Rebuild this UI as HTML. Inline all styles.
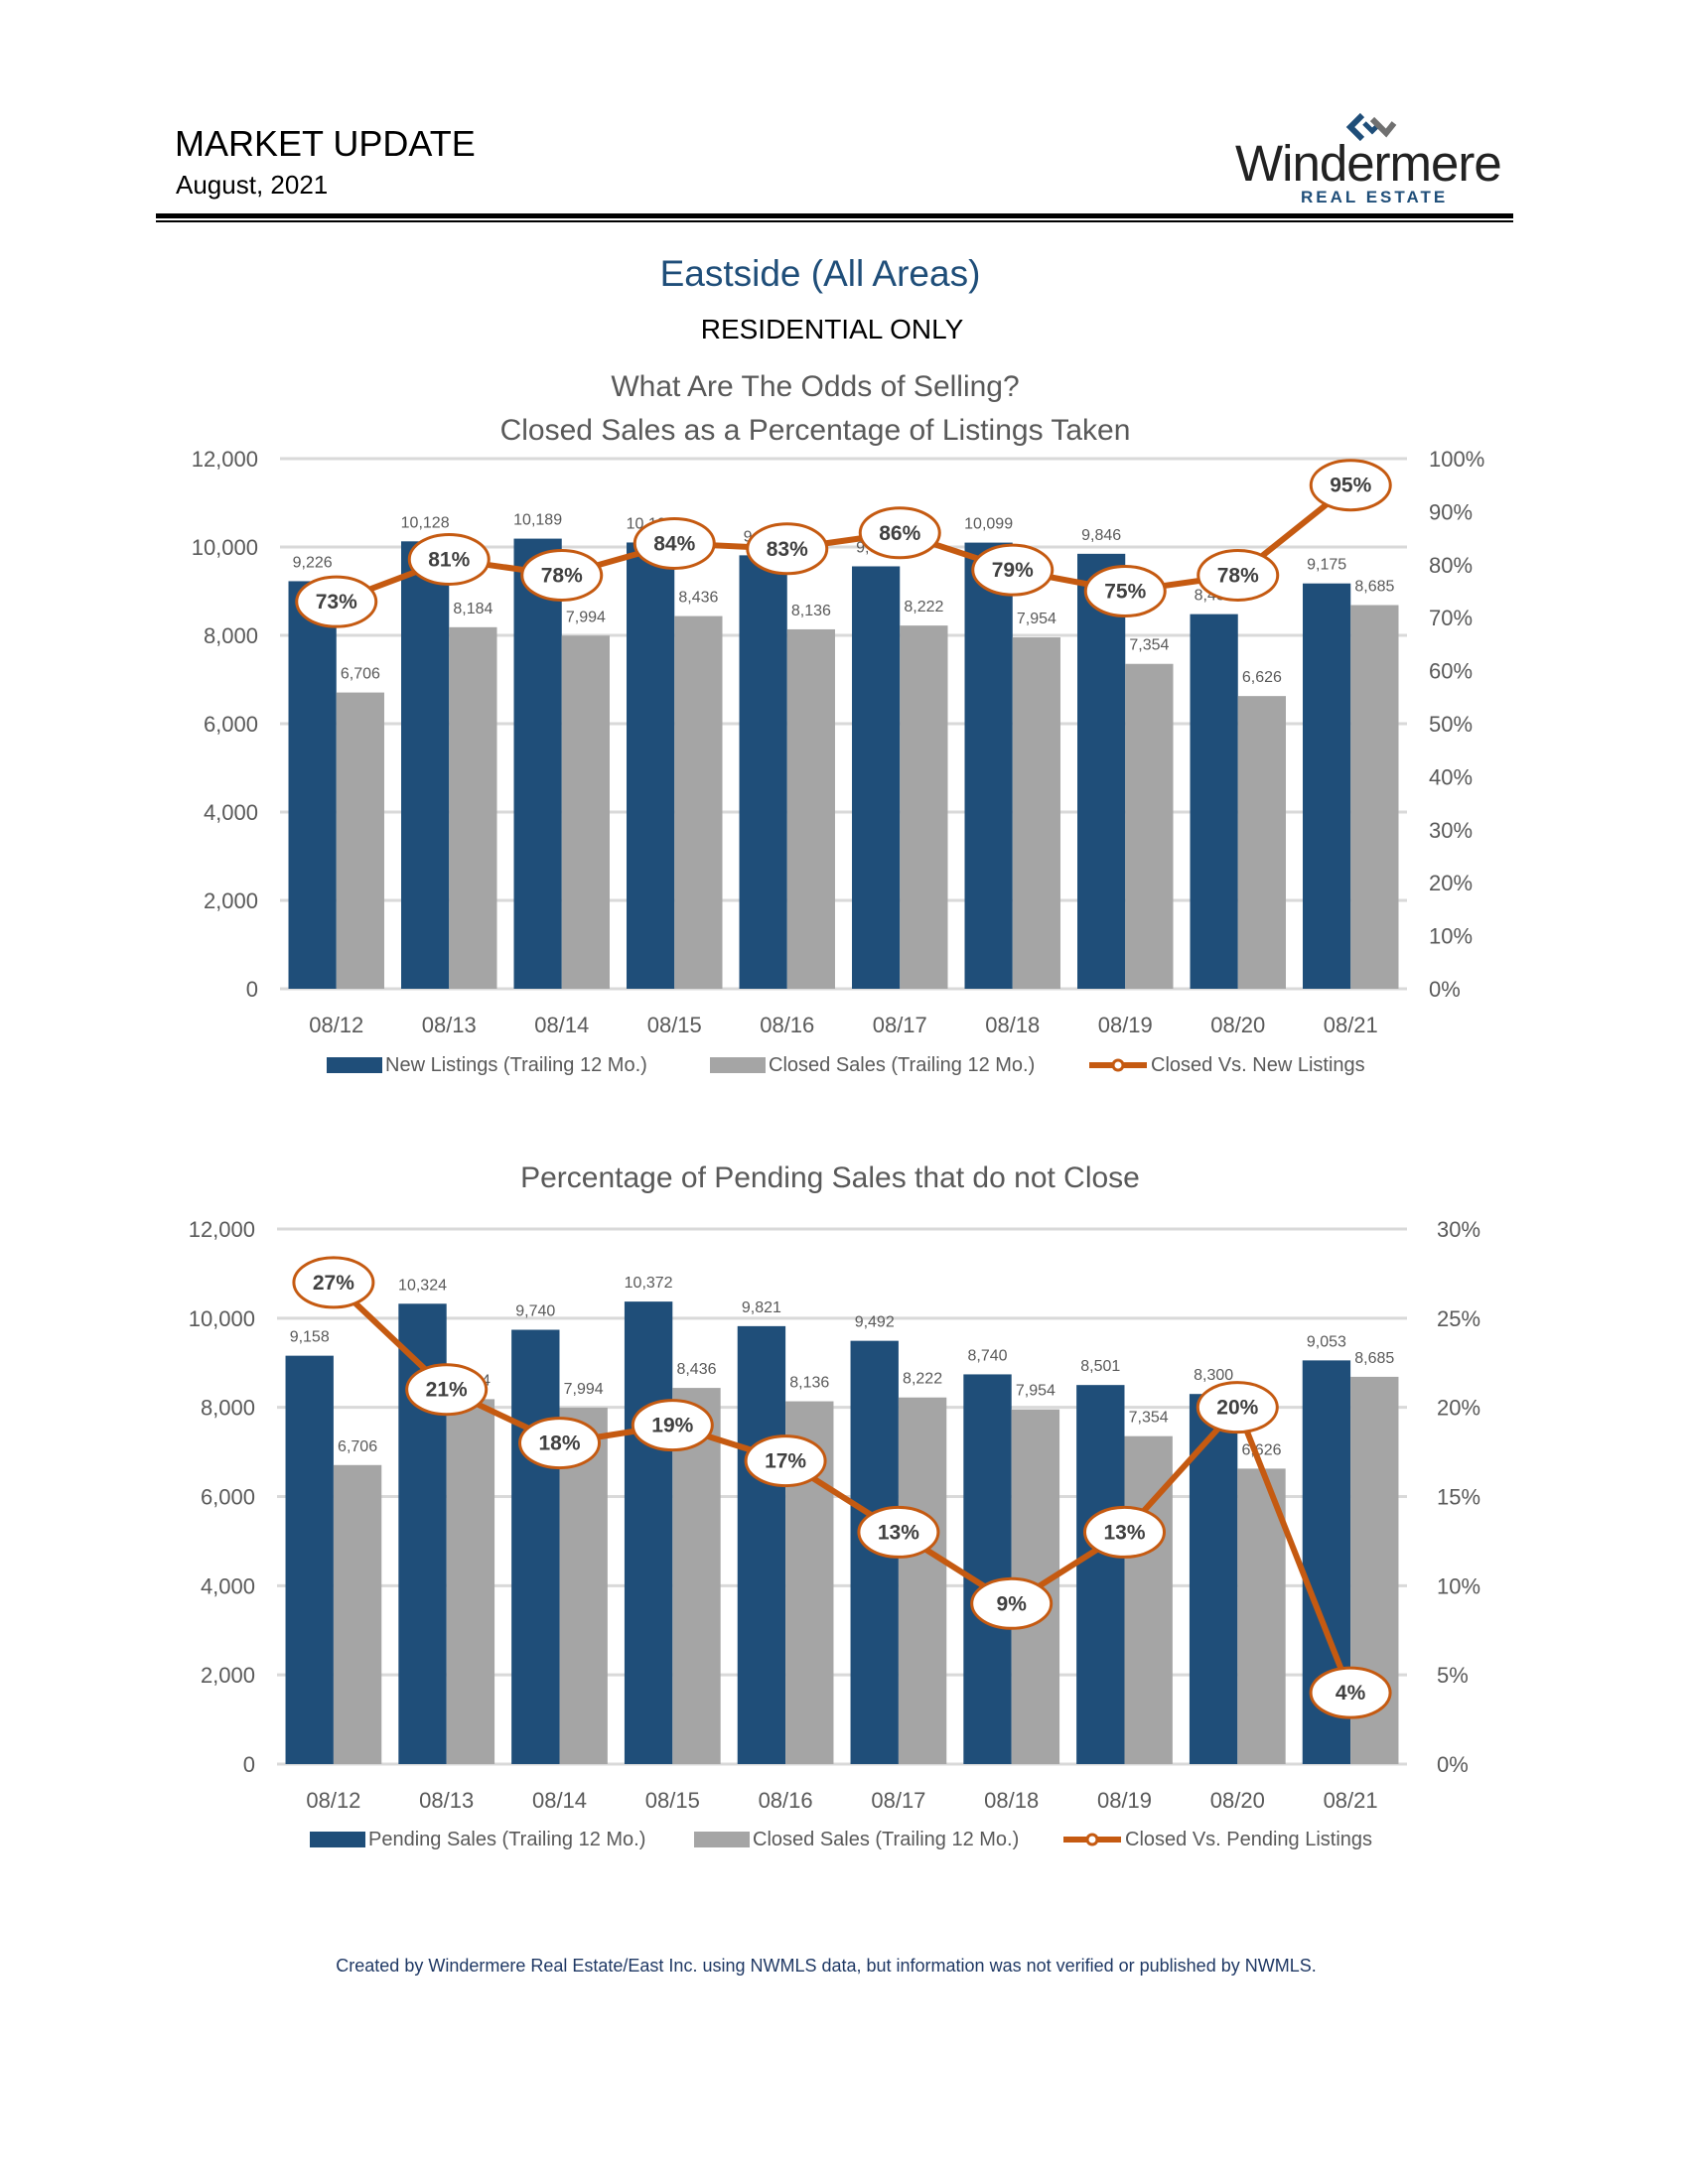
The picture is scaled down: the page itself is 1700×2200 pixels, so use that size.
<!DOCTYPE html>
<html><head><meta charset="utf-8">
<style>
body{margin:0;background:#fff;}
#page{position:relative;width:1700px;height:2200px;background:#fff;overflow:hidden;font-family:"Liberation Sans",sans-serif;}
.abs{position:absolute;white-space:nowrap;}
</style></head>
<body>
<div id="page">
<div class="abs" style="left:176px;top:124px;font-size:36px;color:#000;">MARKET UPDATE</div>
<div class="abs" style="left:177px;top:171px;font-size:26px;color:#000;">August, 2021</div>
<svg class="abs" style="left:1352px;top:112px" width="60" height="34" viewBox="0 0 60 34">
<path d="M20 4 L8 16 L20 28" stroke="#1f4e79" stroke-width="6" fill="none"/>
<path d="M22 12 L30 20 L38 12" stroke="#1f4e79" stroke-width="5" fill="none"/>
<path d="M30 8 L44 22 L52 12" stroke="#707070" stroke-width="6" fill="none"/>
</svg>
<div class="abs" style="left:1244px;top:135px;font-size:51px;color:#222;letter-spacing:-1px;">Windermere</div>
<div class="abs" style="left:1310px;top:189px;font-size:17px;font-weight:bold;color:#1f4e79;letter-spacing:3px;">REAL ESTATE</div>
<div class="abs" style="left:157px;top:215px;width:1367px;height:5px;background:#000;"></div>
<div class="abs" style="left:157px;top:222px;width:1367px;height:2px;background:#000;"></div>
<div class="abs" style="left:0;width:1652px;text-align:center;top:255px;font-size:37px;color:#1f4e79;">Eastside (All Areas)</div>
<div class="abs" style="left:0;width:1676px;text-align:center;top:316px;font-size:28px;color:#000;">RESIDENTIAL ONLY</div>
<div class="abs" style="left:0;width:1664px;text-align:center;top:1970px;font-size:18px;color:#1f3864;">Created by Windermere Real Estate/East Inc. using NWMLS data, but information was not verified or published by NWMLS.</div>
<svg id="charts" class="abs" style="left:0;top:0" width="1700" height="2200"></svg>
</div>
<script>
const categories=["08/12","08/13","08/14","08/15","08/16","08/17","08/18","08/19","08/20","08/21"];
const newListings=[9226,10128,10189,10102,9812,9562,10099,9846,8480,9175];
const closedSales=[6706,8184,7994,8436,8136,8222,7954,7354,6626,8685];
const closedVsNew=[73,81,78,84,83,86,79,75,78,95];
const pendingSales=[9158,10324,9740,10372,9821,9492,8740,8501,8300,9053];
const closedVsPending=[27,21,18,19,17,13,9,13,20,4];
const leftTicks=[0,2000,4000,6000,8000,10000,12000];
const rightTicks1=[0,10,20,30,40,50,60,70,80,90,100];
const rightTicks2=[0,5,10,15,20,25,30];

const NS="http://www.w3.org/2000/svg";
const svg=document.getElementById('charts');
function el(tag,attrs,parent){const e=document.createElementNS(NS,tag);for(const k in attrs)e.setAttribute(k,attrs[k]);(parent||svg).appendChild(e);return e;}
function txt(s,attrs,parent){const e=el('text',attrs,parent);e.textContent=s;return e;}
const fmt=v=>v.toLocaleString('en-US');

function drawChart(cfg){
  const g=el('g',{});
  
  
  const {x0,x1,yTop,yBot,pctMax}=cfg;
  const y=v=>yBot-(v/12000)*(yBot-yTop);
  const yp=v=>yBot-(v/pctMax)*(yBot-yTop);
  const slot=(x1-x0)/categories.length;
  const bw=slot*0.425;
  cfg.titles.forEach((t,i)=>{const e=txt(t,{x:cfg.titleX,y:cfg.titleY+i*44,'font-size':30,fill:'#595959','text-anchor':'middle'},g);
    });
  leftTicks.forEach(v=>{
    const l=el('line',{x1:x0,x2:x1,y1:y(v),y2:y(v),stroke:'#d9d9d9','stroke-width':3},g);
    
    const t=txt(fmt(v),{x:x0-22,y:y(v)+8,'font-size':22,fill:'#595959','text-anchor':'end'},g);
    
  });
  cfg.rTicks.forEach(v=>{
    const t=txt(v+'%',{x:x1+cfg.rOff,y:yp(v)+8,'font-size':22,fill:'#595959'},g);
    
  });
  categories.forEach((c,i)=>{
    const cx=x0+slot*(i+0.5);
    const b=el('rect',{x:cx-bw,y:y(cfg.blue[i]),width:bw,height:yBot-y(cfg.blue[i]),fill:'#1f4e79'},g);
    
    const r=el('rect',{x:cx,y:y(closedSales[i]),width:bw,height:yBot-y(closedSales[i]),fill:'#a5a5a5'},g);
    
    const l1=txt(fmt(cfg.blue[i]),{x:cx-bw/2,y:y(cfg.blue[i])-14,'font-size':16,fill:'#595959','text-anchor':'middle'},g);
    
    const l2=txt(fmt(closedSales[i]),{x:cx+bw/2,y:y(closedSales[i])-14,'font-size':16,fill:'#595959','text-anchor':'middle'},g);
    
    const ct=txt(c,{x:cx,y:cfg.catY,'font-size':22,fill:'#595959','text-anchor':'middle'},g);
    
  });
  const pts=cfg.pct.map((v,i)=>[x0+slot*(i+0.5),yp(v)]);
  const pl=el('polyline',{points:pts.map(p=>p.join(',')).join(' '),fill:'none',stroke:'#c55a11','stroke-width':6,'stroke-linejoin':'round'},g);
  
  pts.forEach((p,i)=>{
    const e=el('ellipse',{cx:p[0],cy:p[1],rx:40,ry:25,fill:'#fff',stroke:'#c55a11','stroke-width':3},g);
    
    const t=txt(cfg.pct[i]+'%',{x:p[0],y:p[1]+7,'font-size':21,'font-weight':'bold',fill:'#404040','text-anchor':'middle'},g);
    
  });
  const L=cfg.legend;
  const ly=cfg.legY;
  const s1=el('rect',{x:L[0],y:ly-14,width:56,height:16,fill:'#1f4e79'},g);
  
  const t1=txt(cfg.legText[0],{x:L[0]+59,y:ly,'font-size':20,fill:'#595959'},g);
  
  const s2=el('rect',{x:L[1],y:ly-14,width:56,height:16,fill:'#a5a5a5'},g);
  
  const t2=txt(cfg.legText[1],{x:L[1]+59,y:ly,'font-size':20,fill:'#595959'},g);
  
  const s3=el('line',{x1:L[2],x2:L[2]+58,y1:ly-6,y2:ly-6,stroke:'#c55a11','stroke-width':6},g);
  
  const s4=el('circle',{cx:L[2]+29,cy:ly-6,r:5,fill:'#fff',stroke:'#c55a11','stroke-width':3},g);
  
  const t3=txt(cfg.legText[2],{x:L[2]+62,y:ly,'font-size':20,fill:'#595959'},g);
  
}

drawChart({name:'odds-of-selling-chart',x0:282,x1:1417,yTop:462,yBot:996,pctMax:100,rTicks:rightTicks1,rOff:22,
  blue:newListings,pct:closedVsNew,titles:['What Are The Odds of Selling?','Closed Sales as a Percentage of Listings Taken'],titleX:821,titleY:399,
  catY:1040,legY:1079,legend:[329,715,1097],legText:['New Listings (Trailing 12 Mo.)','Closed Sales (Trailing 12 Mo.)','Closed Vs. New Listings']});
drawChart({name:'pending-not-close-chart',x0:279,x1:1417,yTop:1238,yBot:1777,pctMax:30,rTicks:rightTicks2,rOff:30,
  blue:pendingSales,pct:closedVsPending,titles:['Percentage of Pending Sales that do not Close'],titleX:836,titleY:1196,
  catY:1821,legY:1859,legend:[312,699,1071],legText:['Pending Sales (Trailing 12 Mo.)','Closed Sales (Trailing 12 Mo.)','Closed Vs. Pending Listings']});
</script>
</body></html>
